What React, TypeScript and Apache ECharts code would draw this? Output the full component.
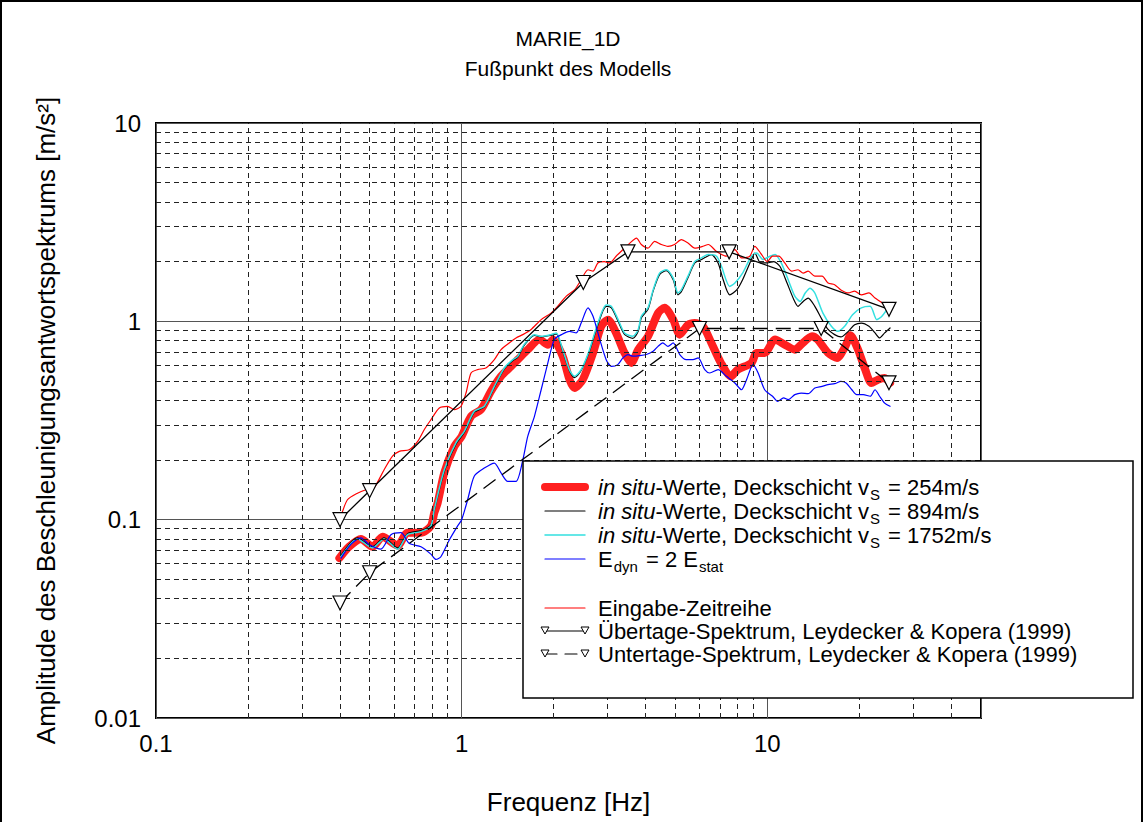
import React, { useEffect, useRef } from 'react';
import * as echarts from 'echarts';

const FONT = '"Liberation Sans", Arial, Helvetica, sans-serif';

// axis ticks
const xMinorTicks = [0.2, 0.3, 0.4, 0.5, 0.6, 0.7, 0.8, 0.9, 2, 3, 4, 5, 6, 7, 8, 9, 20, 30, 40];
const yMinorTicks = [0.02, 0.03, 0.04, 0.05, 0.06, 0.07, 0.08, 0.09, 0.2, 0.3, 0.4, 0.5, 0.6, 0.7, 0.8, 0.9, 2, 3, 4, 5, 6, 7, 8, 9];
const xTickLabels = ['0.1', '1', '10'];
const yTickLabels = ['0.01', '0.1', '1', '10'];

// in situ-Werte, Deckschicht vS = 254 m/s  [Hz, m/s²]
const insitu254: [number, number][] = [
  [0.398, 0.064], [0.428, 0.073], [0.468, 0.080], [0.511, 0.073], [0.551, 0.082], [0.617, 0.074],
  [0.665, 0.086], [0.736, 0.086], [0.793, 0.093], [0.813, 0.108], [0.834, 0.121], [0.877, 0.172],
  [0.946, 0.234], [1.0, 0.263], [1.073, 0.332], [1.157, 0.359], [1.247, 0.444], [1.345, 0.528],
  [1.45, 0.593], [1.526, 0.641], [1.645, 0.72], [1.797, 0.81], [1.914, 0.763], [1.99, 0.81],
  [2.14, 0.667], [2.254, 0.508], [2.34, 0.461], [2.49, 0.508], [2.69, 0.693], [2.86, 0.944],
  [3.01, 1.02], [3.2, 0.874], [3.41, 0.693], [3.59, 0.617], [3.78, 0.72], [4.07, 0.84],
  [4.39, 1.10], [4.61, 1.17], [4.92, 1.02], [5.17, 0.857], [5.5, 0.96], [5.79, 0.98],
  [6.16, 0.944], [6.56, 0.778], [7.05, 0.617], [7.6, 0.528], [8.0, 0.571], [8.87, 0.617],
  [9.22, 0.693], [9.8, 0.693], [10.6, 0.81], [11.4, 0.763], [12.3, 0.72], [12.9, 0.763],
  [14.0, 0.84], [14.6, 0.81], [15.8, 0.693], [16.9, 0.654], [18.0, 0.748], [18.7, 0.85],
  [19.8, 0.72], [20.9, 0.571], [21.9, 0.489], [23.0, 0.508], [24.2, 0.518], [25.2, 0.489],
];

// in situ-Werte, Deckschicht vS = 894 m/s
const insitu894: [number, number][] = [
  [0.403, 0.066], [0.456, 0.081], [0.511, 0.073], [0.557, 0.081], [0.617, 0.072], [0.665, 0.085],
  [0.736, 0.088], [0.793, 0.094], [0.813, 0.111], [0.877, 0.175], [0.958, 0.24], [1.02, 0.275],
  [1.10, 0.348], [1.186, 0.37], [1.279, 0.465], [1.379, 0.575], [1.47, 0.635], [1.526, 0.66],
  [1.60, 0.755], [1.73, 0.85], [1.82, 0.835], [1.96, 0.85], [2.04, 0.865], [2.14, 0.71],
  [2.25, 0.565], [2.34, 0.52], [2.46, 0.565], [2.62, 0.71], [2.79, 0.96], [2.97, 1.19],
  [3.09, 1.17], [3.25, 1.0], [3.41, 0.86], [3.63, 0.82], [3.78, 0.89], [3.87, 1.04],
  [4.07, 1.15], [4.23, 1.42], [4.44, 1.72], [4.67, 1.80], [4.92, 1.62], [5.1, 1.36],
  [5.23, 1.41], [5.5, 1.66], [5.79, 1.97], [6.1, 2.05], [6.56, 2.17], [6.9, 1.97],
  [7.17, 1.62], [7.53, 1.36], [7.94, 1.44], [8.3, 1.62], [8.87, 2.05], [9.1, 2.21],
  [9.5, 1.97], [10.0, 1.97], [10.5, 2.0], [11.0, 1.89], [11.6, 1.56], [12.2, 1.29],
  [12.6, 1.19], [13.1, 1.26], [13.6, 1.31], [14.3, 1.19], [15.1, 1.02], [15.8, 0.91],
  [16.6, 0.857], [17.4, 0.834], [18.4, 0.89], [19.3, 0.96], [20.3, 0.98], [21.5, 0.944],
  [22.5, 0.874], [23.3, 0.825], [24.2, 0.874], [25.2, 0.926],
];

// in situ-Werte, Deckschicht vS = 1752 m/s
const insitu1752: [number, number][] = [
  [0.403, 0.065], [0.456, 0.080], [0.511, 0.072], [0.557, 0.080], [0.617, 0.071], [0.665, 0.084],
  [0.736, 0.087], [0.793, 0.093], [0.813, 0.112], [0.877, 0.178], [0.958, 0.244], [1.02, 0.279],
  [1.10, 0.352], [1.186, 0.373], [1.279, 0.47], [1.379, 0.582], [1.47, 0.641], [1.526, 0.666],
  [1.60, 0.763], [1.73, 0.857], [1.82, 0.84], [1.96, 0.857], [2.04, 0.874], [2.14, 0.72],
  [2.25, 0.571], [2.34, 0.528], [2.46, 0.571], [2.62, 0.72], [2.79, 0.98], [2.97, 1.21],
  [3.09, 1.19], [3.25, 1.02], [3.41, 0.874], [3.63, 0.84], [3.78, 0.91], [3.87, 1.06],
  [4.07, 1.17], [4.23, 1.44], [4.44, 1.75], [4.67, 1.82], [4.92, 1.65], [5.1, 1.39],
  [5.23, 1.44], [5.5, 1.69], [5.79, 2.0], [6.09, 2.09], [6.41, 2.17], [6.82, 2.13],
  [7.08, 1.89], [7.53, 1.50], [7.83, 1.56], [8.3, 1.75], [8.87, 2.13], [9.22, 2.21],
  [9.68, 2.05], [10.2, 2.13], [10.6, 2.17], [11.1, 1.97], [11.7, 1.62], [12.3, 1.34],
  [12.8, 1.26], [13.3, 1.39], [13.8, 1.47], [14.3, 1.39], [15.2, 1.10], [16.2, 0.944],
  [17.0, 0.89], [17.9, 0.944], [19.0, 1.08], [20.3, 1.17], [21.7, 1.19], [22.8, 1.02],
  [23.7, 1.06], [25.2, 1.21],
];

// E_dyn = 2 E_stat
const edyn2: [number, number][] = [
  [0.403, 0.064], [0.434, 0.075], [0.468, 0.081], [0.498, 0.075], [0.544, 0.071], [0.587, 0.084],
  [0.633, 0.086], [0.673, 0.076], [0.736, 0.073], [0.793, 0.067], [0.824, 0.063], [0.855, 0.065],
  [0.911, 0.079], [0.97, 0.093], [1.0, 0.1], [1.046, 0.126], [1.1, 0.166], [1.186, 0.182],
  [1.279, 0.193], [1.345, 0.172], [1.415, 0.156], [1.506, 0.156], [1.585, 0.2], [1.645, 0.263],
  [1.73, 0.332], [1.82, 0.452], [1.914, 0.617], [2.01, 0.81], [2.12, 0.857], [2.25, 0.89],
  [2.37, 0.874], [2.46, 0.98], [2.59, 1.17], [2.69, 1.06], [2.83, 0.81], [2.97, 0.641],
  [3.09, 0.593], [3.24, 0.605], [3.37, 0.654], [3.5, 0.68], [3.63, 0.667], [3.82, 0.671],
  [4.02, 0.68], [4.23, 0.706], [4.39, 0.748], [4.55, 0.778], [4.73, 0.748], [4.92, 0.778],
  [5.17, 0.68], [5.43, 0.641], [5.71, 0.641], [5.94, 0.654], [6.24, 0.571], [6.48, 0.549],
  [6.9, 0.571], [7.35, 0.528], [7.83, 0.489], [8.23, 0.452], [8.55, 0.508], [8.98, 0.605],
  [9.33, 0.549], [9.8, 0.452], [10.4, 0.419], [10.8, 0.395], [11.3, 0.411], [11.7, 0.403],
  [12.3, 0.427], [12.9, 0.435], [13.6, 0.432], [14.3, 0.461], [15.1, 0.47], [15.8, 0.48],
  [16.6, 0.485], [17.4, 0.498], [18.1, 0.489], [18.9, 0.452], [19.6, 0.427], [20.6, 0.427],
  [21.7, 0.419], [22.5, 0.452], [23.3, 0.419], [24.2, 0.387], [25.2, 0.373],
];

// Eingabe-Zeitreihe
const eingabe: [number, number][] = [
  [0.403, 0.104], [0.423, 0.126], [0.456, 0.136], [0.49, 0.142], [0.517, 0.145], [0.557, 0.178],
  [0.594, 0.209], [0.625, 0.221], [0.673, 0.225], [0.718, 0.248], [0.754, 0.284], [0.793, 0.319],
  [0.845, 0.366], [0.9, 0.373], [0.946, 0.359], [0.995, 0.373], [1.033, 0.435], [1.073, 0.549],
  [1.128, 0.571], [1.2, 0.582], [1.279, 0.641], [1.345, 0.72], [1.43, 0.778], [1.506, 0.825],
  [1.585, 0.857], [1.687, 0.91], [1.82, 1.02], [1.96, 1.10], [2.06, 1.19], [2.2, 1.34],
  [2.34, 1.44], [2.46, 1.62], [2.59, 1.82], [2.69, 1.79], [2.79, 1.97], [2.93, 2.0],
  [3.05, 1.97], [3.2, 2.13], [3.37, 2.3], [3.55, 2.48], [3.73, 2.63], [3.87, 2.44],
  [4.07, 2.34], [4.28, 2.53], [4.5, 2.44], [4.73, 2.39], [4.97, 2.44], [5.23, 2.58],
  [5.5, 2.48], [5.79, 2.34], [6.16, 2.39], [6.41, 2.44], [6.82, 2.25], [7.35, 2.13],
  [7.83, 2.3], [8.23, 2.09], [8.76, 2.13], [9.1, 2.39], [9.5, 2.21], [10.0, 2.0],
  [10.4, 2.13], [10.9, 2.13], [11.4, 1.97], [12.0, 1.79], [12.6, 1.82], [13.1, 1.75],
  [13.6, 1.79], [14.3, 1.69], [15.1, 1.69], [15.8, 1.56], [16.6, 1.53], [17.4, 1.44],
  [18.4, 1.39], [19.3, 1.42], [20.3, 1.36], [21.5, 1.39], [22.5, 1.31], [23.7, 1.24],
  [24.7, 1.17],
];

// Übertage-Spektrum, Leydecker & Kopera (1999)
const uebertage: [number, number][] = [[0.4, 0.1], [0.5, 0.14], [2.5, 1.57], [3.5, 2.24], [7.5, 2.24], [25, 1.15]];
// Untertage-Spektrum, Leydecker & Kopera (1999)
const untertage: [number, number][] = [[0.4, 0.038], [0.5, 0.054], [6.0, 0.92], [15, 0.92], [25, 0.49]];

function decadeLabel(v: number, labels: string[], minExp: number) {
  const e = Math.log10(v);
  const r = Math.round(e);
  if (Math.abs(e - r) > 1e-4) return '';
  return labels[r - minExp] ?? '';
}

export default function App() {
  const ref = useRef<HTMLDivElement>(null);

  useEffect(() => {
    document.body.style.margin = '0';
    document.body.style.overflow = 'hidden';
    const chart = echarts.init(ref.current!, null, { renderer: 'svg' });

    const curve = (name: string, data: [number, number][], color: string, width: number, z: number) => ({
      name,
      type: 'line',
      data,
      showSymbol: false,
      smooth: 0.25,
      z,
      lineStyle: { color, width, cap: 'round', join: 'round' },
      itemStyle: { color },
      silent: true,
    });

    const spectrum = (name: string, data: [number, number][], dashed: boolean) => ({
      name,
      type: 'line',
      data,
      z: 6,
      symbol: 'triangle',
      symbolRotate: 180,
      symbolSize: 14,
      showSymbol: true,
      lineStyle: { color: '#000', width: 1.3, type: dashed ? [15, 8] : 'solid' },
      itemStyle: { color: '#fff', borderColor: '#000', borderWidth: 1.2 },
      silent: true,
    });

    const LZ = 100;
    const legendRowY = [487, 511, 535, 559, 608, 631, 654];
    const lx0 = 545, lx1 = 585, tx = 598;
    const LF = 22;
    const richStyle = {
      n: { fontSize: LF, fontFamily: FONT, lineHeight: 30, fill: '#000' },
      i: { fontSize: LF, fontFamily: FONT, fontStyle: 'italic', lineHeight: 30, fill: '#000' },
      s: { fontSize: 15, fontFamily: FONT, lineHeight: 16, verticalAlign: 'bottom', fill: '#000', padding: [0, 2, 0, 1] },
    };
    const legendTexts = [
      '{i|in situ}{n|-Werte, Deckschicht v}{s|S}{n| = 254m/s}',
      '{i|in situ}{n|-Werte, Deckschicht v}{s|S}{n| = 894m/s}',
      '{i|in situ}{n|-Werte, Deckschicht v}{s|S}{n| = 1752m/s}',
      '{n|E}{s|dyn}{n| = 2 E}{s|stat}',
      '{n|Eingabe-Zeitreihe}',
      '{n|Übertage-Spektrum, Leydecker & Kopera (1999)}',
      '{n|Untertage-Spektrum, Leydecker & Kopera (1999)}',
    ];
    const legendSwatch = [
      { color: '#ff2020', width: 8 },
      { color: '#000', width: 1.2 },
      { color: '#33e0e0', width: 1.5 },
      { color: '#0000ff', width: 1.2 },
      { color: '#ff0000', width: 1.2 },
      { color: '#000', width: 1.2 },
      { color: '#000', width: 1.2, dash: [12, 8] },
    ];
    const tri = (x: number, y: number) => ({
      type: 'polygon',
      z: LZ + 2,
      shape: { points: [[x - 4, y - 4], [x + 4, y - 4], [x, y + 3]] },
      style: { fill: '#fff', stroke: '#000', lineWidth: 1 },
    });

    const legendChildren: any[] = [
      {
        type: 'rect',
        z: LZ,
        shape: { x: 523, y: 461, width: 610, height: 237 },
        style: { fill: '#fff', stroke: '#000', lineWidth: 1.5 },
      },
    ];
    legendTexts.forEach((t, k) => {
      const y = legendRowY[k];
      const sw = legendSwatch[k];
      legendChildren.push({
        type: 'line',
        z: LZ + 1,
        shape: { x1: lx0, y1: y, x2: lx1, y2: y },
        style: { stroke: sw.color, lineWidth: sw.width, lineCap: 'round', lineDash: (sw as any).dash },
      });
      if (k >= 5) {
        legendChildren.push(tri(lx0, y));
        legendChildren.push(tri(lx1, y));
      }
      legendChildren.push({
        type: 'text',
        z: LZ + 1,
        x: tx,
        y,
        style: { text: t, rich: richStyle, textVerticalAlign: 'middle', verticalAlign: 'middle', font: `${LF}px ${FONT}` },
      });
    });

    const option: any = {
      animation: false,
      backgroundColor: '#fff',
      grid: { left: 156, top: 123, width: 825, height: 595, show: true, borderColor: '#000', borderWidth: 2, backgroundColor: 'transparent' },
      xAxis: {
        type: 'log',
        logBase: 10,
        min: 0.1,
        max: 50,
        name: 'Frequenz [Hz]',
        nameLocation: 'middle',
        nameGap: 71,
        nameTextStyle: { fontSize: 26, fontFamily: FONT, color: '#000' },
        axisLine: { show: false },
        axisTick: { show: false },
        axisLabel: {
          fontSize: 24, fontFamily: FONT, color: '#000', margin: 13,
          formatter: (v: number) => decadeLabel(v, xTickLabels, -1),
        },
        splitLine: { show: true, lineStyle: { color: '#555', width: 1 } },
      },
      yAxis: {
        type: 'log',
        logBase: 10,
        min: 0.01,
        max: 10,
        name: 'Amplitude des Beschleunigungsantwortspektrums [m/s²]',
        nameLocation: 'middle',
        nameGap: 97,
        nameRotate: 90,
        nameTextStyle: { fontSize: 26, fontFamily: FONT, color: '#000' },
        axisLine: { show: false },
        axisTick: { show: false },
        axisLabel: {
          fontSize: 24, fontFamily: FONT, color: '#000', margin: 15,
          formatter: (v: number) => decadeLabel(v, yTickLabels, -2),
        },
        splitLine: { show: true, lineStyle: { color: '#555', width: 1 } },
      },
      series: [
        {
          name: 'minor grid',
          type: 'line',
          data: [],
          z: 1,
          silent: true,
          markLine: {
            silent: true,
            symbol: ['none', 'none'],
            label: { show: false },
            lineStyle: { color: '#222', width: 1, type: [5, 4] },
            data: [
              ...xMinorTicks.map((v) => ({ xAxis: v })),
              ...yMinorTicks.map((v) => ({ yAxis: v })),
            ],
          },
        },
        curve('in situ 254', insitu254, '#ff2020', 8, 2),
        curve('in situ 894', insitu894, '#000', 1.2, 3),
        curve('in situ 1752', insitu1752, '#33e0e0', 1.5, 3),
        curve('Edyn', edyn2, '#0000ff', 1.2, 4),
        curve('Eingabe', eingabe, '#ff0000', 1.2, 4),
        spectrum('Übertage', uebertage, false),
        spectrum('Untertage', untertage, true),
      ],
      graphic: [
        {
          type: 'polyline',
          z: LZ,
          shape: { points: [[1, 822], [1, 1], [1142, 1], [1142, 822]] },
          style: { fill: 'none', stroke: '#000', lineWidth: 2 },
        },
        {
          type: 'text', x: 568, y: 38, z: LZ,
          style: { text: 'MARIE_1D', font: `21px ${FONT}`, fill: '#000', textAlign: 'center', textVerticalAlign: 'middle' },
        },
        {
          type: 'text', x: 568, y: 68, z: LZ,
          style: { text: 'Fußpunkt des Modells', font: `21px ${FONT}`, fill: '#000', textAlign: 'center', textVerticalAlign: 'middle' },
        },
        { type: 'group', z: LZ, children: legendChildren },
      ],
    };

    chart.setOption(option);
    return () => chart.dispose();
  }, []);

  return <div ref={ref} style={{ width: 1144, height: 823, background: '#fff' }} />;
}
